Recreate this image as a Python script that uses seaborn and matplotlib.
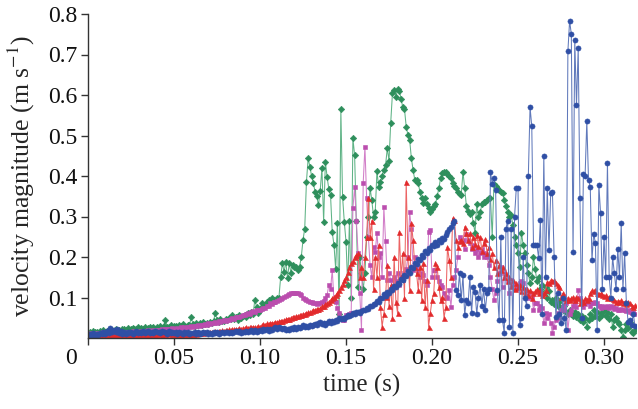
import numpy as np
import pandas as pd
import matplotlib
matplotlib.use("Agg")
import matplotlib.pyplot as plt
import matplotlib.transforms as mtransforms
import seaborn as sns

# sampling of the recorded series (s)
t_start = 0.001
t_step = 0.001

green = [
    .015, .013, .018, .014, .016, .012, .017, .015, .019, .016,
    .017, .020, .016, .019, .018, .022, .017, .020, .018, .023,
    .021, .019, .024, .020, .022, .025, .021, .023, .026, .022,
    .024, .022, .027, .023, .025, .028, .024, .026, .023, .027,
    .025, .029, .024, .030, .044, .028, .026, .031, .027, .029,
    .030, .027, .032, .029, .035, .030, .028, .033, .031, .052,
    .034, .030, .036, .032, .038, .033, .040, .035, .037, .034,
    .039, .036, .042, .062, .045, .040, .047, .043, .041, .048,
    .044, .050, .046, .057, .048, .052, .045, .057, .050, .055,
    .058, .052, .062, .056, .064, .060, .094, .077, .062, .069,
    .086, .080, .082, .090, .094, .088, .100, .095, .092, .100,
    .100, .150, .185, .163, .188, .148, .185, .160, .180, .175,
    .176, .168, .176, .200, .242, .270, .386, .444, .423, .400,
    .383, .361, .350, .328, .364, .419, .287, .435, .398, .368,
    .353, .261, .230, .170, .285, .060, .565, .349, .287, .238,
    .130, .290, .100, .493, .452, .290, .126, .200, .160, .120,
    .160, .250, .300, .370, .340, .300, .312, .413, .372, .384,
    .400, .416, .427, .468, .438, .532, .604, .612, .596, .614,
    .611, .590, .570, .565, .522, .501, .489, .444, .415, .390,
    .390, .383, .360, .345, .333, .346, .330, .321, .310, .318,
    .325, .330, .350, .370, .395, .407, .410, .411, .405, .400,
    .395, .383, .375, .370, .360, .356, .354, .410, .370, .325,
    .313, .305, .310, .284, .260, .330, .300, .310, .330, .335,
    .335, .340, .345, .345, .250, .380, .375, .370, .365, .360,
    .357, .340, .325, .312, .300, .304, .280, .250, .230, .210,
    .175, .260, .230, .210, .180, .160, .135, .150, .200, .170,
    .140, .150, .120, .130, .110, .125, .100, .115, .090, .094,
    .085, .100, .080, .090, .075, .070, .080, .065, .060, .070,
    .060, .055, .065, .052, .060, .045, .055, .040, .050, .027,
    .045, .060, .050, .070, .055, .065, .050, .062, .058, .070,
    .055, .065, .048, .060, .027, .045, .050, .040, .035, .020,
    .002, .020, .035, .025, .040, .015, .012, .020,
]

magenta = [
    .010, .012, .009, .011, .013, .010, .012, .011, .014, .012,
    .011, .013, .012, .014, .012, .015, .013, .014, .012, .015,
    .014, .013, .016, .014, .015, .017, .015, .016, .014, .017,
    .016, .015, .018, .017, .019, .016, .018, .020, .017, .019,
    .020, .018, .021, .019, .022, .021, .023, .020, .024, .022,
    .023, .025, .022, .026, .024, .027, .025, .028, .026, .029,
    .028, .030, .029, .031, .030, .033, .032, .034, .033, .036,
    .035, .037, .036, .039, .038, .041, .040, .042, .044, .043,
    .045, .044, .047, .049, .048, .051, .053, .052, .055, .057,
    .056, .059, .061, .060, .063, .066, .065, .068, .070, .069,
    .072, .075, .074, .078, .080, .086, .085, .088, .090, .092,
    .095, .097, .100, .102, .104, .106, .108, .110, .111, .112,
    .112, .110, .109, .105, .100, .097, .094, .092, .090, .088,
    .086, .087, .085, .086, .086, .088, .092, .098, .106, .131,
    .120, .168, .094, .090, .075, .061, .050, .044, .044, .057,
    .057, .060, .061, .320, .372, .290, .210, .110, .020, .383,
    .472, .345, .250, .180, .150, .225, .213, .260, .200, .210,
    .150, .323, .240, .143, .160, .143, .120, .150, .140, .160,
    .130, .150, .143, .160, .170, .200, .312, .268, .168, .200,
    .180, .168, .150, .160, .155, .140, .130, .262, .267, .151,
    .168, .168, .150, .140, .130, .127, .110, .102, .100, .118,
    .077, .130, .150, .168, .200, .250, .240, .242, .220, .258,
    .242, .234, .220, .230, .210, .220, .200, .209, .220, .200,
    .210, .200, .180, .150, .120, .094, .110, .140, .160, .176,
    .127, .160, .150, .140, .110, .143, .130, .125, .120, .127,
    .135, .140, .135, .120, .110, .100, .110, .102, .069, .086,
    .086, .070, .080, .075, .036, .061, .050, .060, .037, .012,
    .028, .045, .061, .050, .070, .077, .069, .086, .020, .060,
    .070, .080, .090, .077, .118, .100, .090, .077, .085, .094,
    .090, .080, .086, .086, .090, .086, .080, .075, .080, .077,
    .077, .080, .075, .078, .077, .072, .075, .070, .069, .072,
    .069, .070, .066, .068, .065, .061, .063, .060,
]

red = [
    .004, .006, .003, .007, .005, .008, .004, .006, .003, .007,
    .005, .008, .004, .007, .006, .009, .005, .008, .006, .007,
    .006, .004, .008, .005, .007, .006, .009, .005, .008, .006,
    .007, .009, .006, .010, .008, .007, .011, .009, .008, .010,
    .009, .012, .008, .011, .010, .013, .009, .012, .011, .010,
    .009, .007, .010, .008, .011, .009, .012, .010, .009, .011,
    .010, .012, .011, .013, .012, .014, .013, .015, .014, .016,
    .014, .016, .015, .017, .016, .018, .017, .019, .018, .020,
    .019, .021, .020, .022, .021, .023, .022, .024, .023, .025,
    .024, .026, .025, .027, .026, .028, .027, .026, .029, .028,
    .032, .034, .033, .036, .035, .037, .038, .037, .040, .039,
    .041, .043, .042, .045, .046, .048, .047, .050, .053, .052,
    .055, .054, .057, .058, .060, .059, .062, .064, .063, .066,
    .068, .070, .072, .071, .074, .078, .080, .083, .086, .090,
    .094, .098, .102, .106, .110, .118, .126, .134, .142, .151,
    .162, .175, .184, .190, .200, .205, .209, .150, .175, .151,
    .200, .250, .345, .250, .290, .120, .200, .150, .230, .077,
    .028, .060, .102, .180, .080, .130, .050, .200, .090, .061,
    .262, .150, .209, .100, .386, .200, .118, .283, .242, .176,
    .160, .118, .176, .094, .184, .077, .143, .028, .061, .094,
    .110, .184, .176, .127, .094, .102, .050, .077, .225, .193,
    .151, .296, .291, .242, .225, .240, .242, .234, .275, .260,
    .242, .260, .225, .250, .232, .255, .228, .250, .215, .234,
    .245, .210, .225, .195, .209, .175, .193, .160, .180, .168,
    .175, .150, .160, .140, .151, .128, .142, .120, .135, .127,
    .130, .115, .127, .110, .122, .105, .118, .100, .112, .115,
    .120, .110, .118, .105, .112, .118, .139, .135, .143, .140,
    .143, .135, .130, .127, .102, .110, .100, .094, .100, .095,
    .098, .102, .095, .102, .100, .086, .095, .090, .098, .094,
    .100, .110, .118, .115, .118, .110, .108, .110, .106, .104,
    .106, .100, .102, .098, .096, .094, .090, .092, .088, .094,
    .086, .090, .084, .088, .086, .080, .077, .082,
]

blue = [
    .010, .006, .012, .008, .011, .007, .013, .009, .015, .010,
    .018, .012, .025, .016, .020, .014, .022, .012, .017, .011,
    .014, .010, .016, .012, .015, .011, .013, .017, .012, .016,
    .013, .017, .012, .015, .018, .013, .016, .012, .017, .014,
    .015, .012, .018, .014, .016, .011, .017, .013, .015, .012,
    .014, .011, .016, .013, .010, .015, .012, .014, .011, .013,
    .012, .015, .011, .014, .010, .013, .016, .012, .014, .011,
    .013, .010, .015, .012, .014, .011, .013, .016, .012, .015,
    .014, .012, .016, .013, .015, .018, .014, .017, .013, .016,
    .015, .018, .014, .017, .020, .016, .019, .015, .018, .020,
    .018, .022, .019, .021, .017, .023, .020, .024, .026, .022,
    .027, .024, .021, .025, .019, .023, .020, .024, .022, .026,
    .023, .027, .024, .028, .032, .026, .030, .027, .033, .029,
    .032, .035, .031, .036, .040, .034, .038, .033, .037, .041,
    .038, .042, .039, .045, .043, .049, .046, .050, .048, .053,
    .057, .054, .058, .062, .059, .063, .064, .061, .066, .068,
    .070, .074, .072, .079, .078, .085, .084, .092, .090, .100,
    .098, .108, .104, .114, .110, .121, .118, .128, .125, .136,
    .133, .146, .142, .156, .152, .166, .160, .176, .172, .186,
    .183, .196, .192, .206, .200, .214, .210, .222, .218, .230,
    .226, .236, .230, .242, .236, .248, .244, .255, .262, .270,
    .274, .285, .290, .118, .106, .160, .094, .155, .057, .094,
    .086, .150, .062, .126, .114, .060, .100, .130, .080, .120,
    .070, .110, .120, .410, .380, .395, .365, .118, .044, .250,
    .044, .012, .270, .290, .027, .270, .012, .300, .370, .370,
    .032, .050, .200, .100, .080, .400, .570, .523, .230, .230,
    .230, .197, .291, .060, .450, .150, .370, .217, .357, .361,
    .200, .053, .110, .060, .036, .100, .050, .020, .708, .783,
    .750, .213, .735, .575, .716, .345, .050, .405, .400, .535,
    .390, .373, .193, .258, .234, .020, .378, .308, .120, .250,
    .151, .432, .150, .100, .200, .160, .120, .220, .150, .283,
    .120, .210, .086, .040, .044, .032, .060, .030,
]

x_ticks = [0, 0.05, 0.10, 0.15, 0.20, 0.25, 0.30]
x_tick_labels = ["0", "0.05", "0.10", "0.15", "0.20", "0.25", "0.30"]
y_ticks = [0.1, 0.2, 0.3, 0.4, 0.5, 0.6, 0.7, 0.8]
y_tick_labels = ["0.1", "0.2", "0.3", "0.4", "0.5", "0.6", "0.7", "0.8"]
x_label = "time (s)"
y_label = "velocity magnitude (m s$^{-1}$)"

series = [
    ("green", green, "D", "#2e8f5c", "#5fb386", 3.3),
    ("magenta", magenta, "s", "#bb4dae", "#d27ec8", 3.3),
    ("red", red, "^", "#e22a2c", "#ec6464", 3.6),
    ("blue", blue, "o", "#2f4fa5", "#6079bb", 3.7),
]

sns.set_style("ticks")
plt.rcParams["font.family"] = ["Liberation Serif", "DejaVu Serif"]
plt.rcParams["mathtext.fontset"] = "stix"

fig = plt.figure(figsize=(6.38, 4.09), dpi=100)
ax = fig.add_axes([88 / 638, 71 / 409, 548 / 638, 324 / 409])

for name, vals, mk, dark, light, ms in series:
    v = np.asarray(vals, dtype=float)
    t = t_start + t_step * np.arange(len(v))
    df = pd.DataFrame({"time": t, "velocity": v})
    sns.lineplot(data=df, x="time", y="velocity", ax=ax, estimator=None,
                 sort=False, color=light, linewidth=0.75, marker=mk,
                 markersize=ms, markerfacecolor=dark, markeredgecolor=dark,
                 markeredgewidth=0.4)

ax.set_xlim(0, 0.3186)
ax.set_ylim(0, 0.8)
ax.set_xticks(x_ticks, x_tick_labels)
ax.set_yticks(y_ticks, y_tick_labels)
ax.set_xlabel(x_label, fontsize=18, labelpad=3)
ax.set_ylabel(y_label, fontsize=18.5)
ax.yaxis.set_label_coords(-0.093, 0.5)

for side in ("top", "right"):
    ax.spines[side].set_visible(False)
for side in ("left", "bottom"):
    ax.spines[side].set_color("#333333")
    ax.spines[side].set_linewidth(1.0)
ax.tick_params(direction="out", length=5, width=1, color="#333333",
               labelsize=17, pad=2.5, labelcolor="#111111")

zero_lbl = ax.get_xticklabels()[0]
zero_lbl.set_transform(zero_lbl.get_transform() +
                       mtransforms.ScaledTranslation(-0.17, 0, fig.dpi_scale_trans))

fig.savefig("out.png", dpi=100)
